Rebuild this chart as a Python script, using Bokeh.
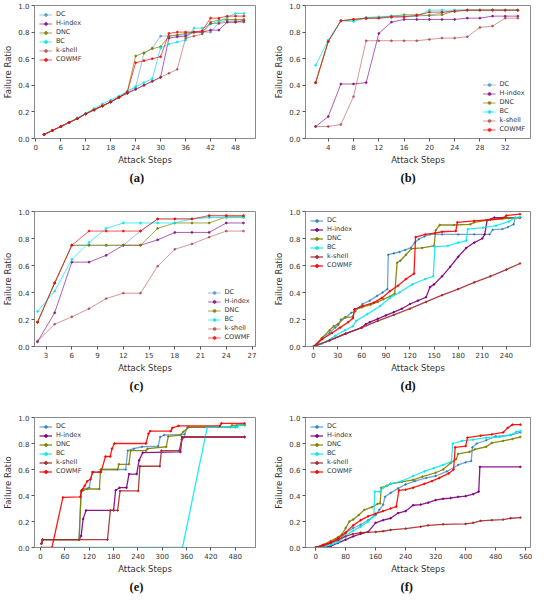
from bokeh.plotting import figure
from bokeh.layouts import column, row
from bokeh.models import Range1d, FixedTicker, NumeralTickFormatter, Legend, LegendItem
from bokeh.embed import file_html
from bokeh.resources import INLINE

series_names = ["DC", "H-index", "DNC", "BC", "k-shell", "COWMF"]
y_ticks = [0.0, 0.2, 0.4, 0.6, 0.8, 1.0]

# ---------------- panel (a) ----------------
a_x = [2, 4, 6, 8, 10, 12, 14, 16, 18, 20, 22, 24, 26, 28, 30, 32, 34, 36, 38, 40, 42, 44, 46, 48, 50]
a_dc = [0.03, 0.06, 0.09, 0.12, 0.15, 0.185, 0.215, 0.245, 0.275, 0.31, 0.345, 0.385, 0.64, 0.68, 0.77, 0.77, 0.775, 0.78, 0.80, 0.80, 0.80, 0.87, 0.89, 0.89, 0.89]
a_h = [0.03, 0.06, 0.09, 0.12, 0.15, 0.185, 0.215, 0.245, 0.275, 0.31, 0.34, 0.37, 0.40, 0.43, 0.46, 0.755, 0.765, 0.77, 0.80, 0.80, 0.815, 0.815, 0.875, 0.875, 0.885]
a_dnc = [0.03, 0.06, 0.09, 0.12, 0.15, 0.185, 0.215, 0.245, 0.275, 0.31, 0.35, 0.62, 0.645, 0.675, 0.69, 0.77, 0.78, 0.79, 0.80, 0.80, 0.875, 0.89, 0.895, 0.895, 0.895]
a_bc = [0.03, 0.06, 0.09, 0.12, 0.155, 0.19, 0.225, 0.26, 0.29, 0.32, 0.355, 0.39, 0.42, 0.45, 0.68, 0.71, 0.725, 0.74, 0.83, 0.83, 0.86, 0.88, 0.91, 0.94, 0.94]
a_ks = [0.03, 0.06, 0.09, 0.12, 0.15, 0.185, 0.215, 0.245, 0.275, 0.31, 0.34, 0.37, 0.40, 0.43, 0.46, 0.49, 0.52, 0.755, 0.77, 0.785, 0.865, 0.865, 0.875, 0.875, 0.875]
a_cowmf = [0.03, 0.06, 0.09, 0.12, 0.15, 0.185, 0.215, 0.245, 0.275, 0.31, 0.35, 0.57, 0.585, 0.60, 0.615, 0.79, 0.80, 0.80, 0.80, 0.81, 0.905, 0.905, 0.92, 0.92, 0.92]
a_ticks = [0, 6, 12, 18, 24, 30, 36, 42, 48]

# ---------------- panel (b) ----------------
b_x = [2, 4, 6, 8, 10, 12, 14, 16, 18, 20, 22, 24, 26, 28, 30, 32, 34]
b_dc = [0.42, 0.73, 0.885, 0.895, 0.90, 0.905, 0.91, 0.915, 0.92, 0.925, 0.945, 0.965, 0.965, 0.965, 0.965, 0.965, 0.965]
b_h = [0.09, 0.165, 0.41, 0.41, 0.42, 0.79, 0.875, 0.895, 0.895, 0.895, 0.895, 0.895, 0.905, 0.905, 0.92, 0.92, 0.92]
b_dnc = [0.42, 0.73, 0.885, 0.895, 0.905, 0.91, 0.92, 0.93, 0.93, 0.925, 0.93, 0.96, 0.965, 0.965, 0.965, 0.965, 0.965]
b_bc = [0.55, 0.74, 0.885, 0.88, 0.91, 0.915, 0.92, 0.92, 0.92, 0.965, 0.965, 0.965, 0.965, 0.965, 0.965, 0.965, 0.965]
b_ks = [0.09, 0.09, 0.105, 0.315, 0.735, 0.735, 0.735, 0.735, 0.735, 0.745, 0.755, 0.755, 0.765, 0.835, 0.845, 0.905, 0.905]
b_cowmf = [0.42, 0.73, 0.885, 0.895, 0.905, 0.905, 0.915, 0.915, 0.925, 0.95, 0.95, 0.955, 0.965, 0.965, 0.965, 0.965, 0.965]
b_ticks = [4, 8, 12, 16, 20, 24, 28, 32]

# ---------------- panel (c) ----------------
c_x = [2, 4, 6, 8, 10, 12, 14, 16, 18, 20, 22, 24, 26]
c_dc = [0.18, 0.47, 0.75, 0.75, 0.75, 0.75, 0.855, 0.945, 0.945, 0.945, 0.96, 0.96, 0.96]
c_h = [0.035, 0.25, 0.625, 0.625, 0.675, 0.75, 0.75, 0.79, 0.845, 0.845, 0.845, 0.915, 0.915]
c_dnc = [0.18, 0.47, 0.75, 0.75, 0.75, 0.75, 0.75, 0.875, 0.915, 0.915, 0.915, 0.96, 0.96]
c_bc = [0.26, 0.41, 0.645, 0.77, 0.875, 0.915, 0.915, 0.915, 0.915, 0.945, 0.955, 0.955, 0.955]
c_ks = [0.04, 0.165, 0.22, 0.28, 0.355, 0.395, 0.395, 0.595, 0.72, 0.76, 0.81, 0.855, 0.855]
c_cowmf = [0.18, 0.47, 0.75, 0.855, 0.855, 0.855, 0.855, 0.945, 0.945, 0.945, 0.97, 0.97, 0.97]
c_ticks = [3, 6, 9, 12, 15, 18, 21, 24, 27]

# ---------------- panel (d) ----------------
d_dc_x = [0, 5, 11, 20, 27, 31, 34, 40, 47, 52, 57, 61, 70, 79, 86, 92, 93, 100, 107, 114, 121, 126, 131, 138, 145, 160, 180, 200, 219, 223, 235, 242, 249, 251, 257]
d_dc_y = [0, 0.02, 0.065, 0.10, 0.14, 0.16, 0.20, 0.215, 0.25, 0.26, 0.29, 0.315, 0.34, 0.375, 0.40, 0.425, 0.68, 0.69, 0.70, 0.715, 0.73, 0.77, 0.795, 0.815, 0.83, 0.83, 0.83, 0.83, 0.83, 0.865, 0.87, 0.885, 0.905, 0.955, 0.955]
d_h_x = [0, 20, 40, 60, 65, 70, 80, 90, 100, 110, 120, 130, 140, 145, 150, 160, 170, 180, 190, 200, 210, 213, 216, 225, 257]
d_h_y = [0, 0.045, 0.095, 0.14, 0.165, 0.18, 0.205, 0.23, 0.255, 0.28, 0.315, 0.34, 0.365, 0.44, 0.46, 0.52, 0.59, 0.665, 0.73, 0.77, 0.80, 0.83, 0.935, 0.955, 0.955]
d_dnc_x = [0, 10, 20, 25, 30, 39, 49, 51, 60, 71, 80, 87, 95, 101, 104, 108, 115, 122, 135, 150, 152, 157, 175, 195, 200, 215, 243, 257]
d_dnc_y = [0, 0.06, 0.12, 0.15, 0.165, 0.215, 0.22, 0.275, 0.29, 0.31, 0.33, 0.35, 0.37, 0.39, 0.62, 0.635, 0.68, 0.725, 0.73, 0.745, 0.86, 0.9, 0.9, 0.905, 0.92, 0.935, 0.95, 0.955]
d_bc_x = [0, 10, 17, 27, 39, 49, 53, 67, 83, 95, 107, 123, 139, 149, 151, 167, 180, 190, 192, 211, 227, 243, 251, 257]
d_bc_y = [0, 0.02, 0.04, 0.08, 0.12, 0.15, 0.19, 0.24, 0.30, 0.36, 0.40, 0.46, 0.50, 0.52, 0.74, 0.745, 0.77, 0.785, 0.87, 0.88, 0.895, 0.925, 0.955, 0.96]
d_ks_x = [0, 20, 40, 60, 80, 100, 120, 140, 160, 180, 200, 220, 240, 257]
d_ks_y = [0, 0.045, 0.095, 0.14, 0.19, 0.235, 0.28, 0.33, 0.38, 0.425, 0.475, 0.52, 0.57, 0.615]
d_cowmf_x = [0, 11, 23, 33, 43, 49, 51, 61, 75, 85, 95, 105, 115, 125, 127, 139, 151, 160, 177, 179, 200, 220, 235, 240, 257]
d_cowmf_y = [0, 0.055, 0.10, 0.14, 0.18, 0.21, 0.275, 0.30, 0.325, 0.36, 0.41, 0.45, 0.50, 0.54, 0.81, 0.83, 0.84, 0.85, 0.855, 0.92, 0.93, 0.94, 0.95, 0.97, 0.98]
d_ticks = [0, 30, 60, 90, 120, 150, 180, 210, 240]

# ---------------- panel (e) ----------------
e_dc_x = [2, 5, 95, 100, 105, 120, 127, 145, 150, 210, 215, 230, 250, 290, 295, 305, 355, 362, 480, 485, 503]
e_dc_y = [0.03, 0.06, 0.06, 0.43, 0.45, 0.46, 0.58, 0.58, 0.60, 0.60, 0.745, 0.76, 0.775, 0.78, 0.85, 0.865, 0.87, 0.925, 0.925, 0.94, 0.94]
e_h_x = [2, 5, 95, 100, 105, 112, 180, 185, 195, 212, 218, 237, 243, 252, 345, 349, 503]
e_h_y = [0.03, 0.06, 0.06, 0.09, 0.22, 0.285, 0.285, 0.44, 0.46, 0.46, 0.565, 0.565, 0.67, 0.73, 0.735, 0.85, 0.85]
e_dnc_x = [2, 5, 95, 100, 105, 115, 145, 148, 190, 193, 218, 222, 260, 264, 310, 315, 345, 352, 366, 468, 472, 503]
e_dnc_y = [0.03, 0.06, 0.06, 0.43, 0.44, 0.45, 0.45, 0.60, 0.60, 0.64, 0.64, 0.745, 0.745, 0.76, 0.775, 0.855, 0.865, 0.89, 0.925, 0.925, 0.94, 0.945]
e_bc_x = [30, 350, 411, 485, 488, 503]
e_bc_y = [0, 0, 0.925, 0.925, 0.94, 0.94]
e_ks_x = [2, 5, 165, 172, 190, 196, 241, 245, 294, 298, 342, 348, 356, 503]
e_ks_y = [0.03, 0.06, 0.06, 0.285, 0.285, 0.435, 0.435, 0.625, 0.625, 0.745, 0.745, 0.83, 0.85, 0.85]
e_cowmf_x = [2, 28, 55, 98, 101, 109, 115, 123, 129, 149, 160, 172, 176, 182, 260, 266, 270, 321, 325, 340, 442, 446, 503]
e_cowmf_y = [0, 0, 0.385, 0.39, 0.44, 0.475, 0.51, 0.525, 0.58, 0.58, 0.70, 0.70, 0.76, 0.80, 0.80, 0.875, 0.895, 0.895, 0.92, 0.935, 0.935, 0.955, 0.955]
e_ticks = [0, 60, 120, 180, 240, 300, 360, 420, 480]

# ---------------- panel (f) ----------------
f_dc_x = [0, 20, 40, 60, 80, 100, 120, 140, 160, 170, 180, 185, 200, 220, 240, 265, 295, 320, 350, 380, 400, 415, 418, 430, 455, 480, 520, 546]
f_dc_y = [0, 0.01, 0.03, 0.05, 0.11, 0.15, 0.175, 0.21, 0.25, 0.29, 0.33, 0.39, 0.42, 0.455, 0.485, 0.51, 0.535, 0.55, 0.585, 0.635, 0.655, 0.665, 0.77, 0.80, 0.825, 0.855, 0.865, 0.885]
f_h_x = [0, 40, 60, 80, 100, 120, 140, 160, 180, 200, 220, 240, 260, 280, 300, 320, 340, 360, 380, 400, 420, 435, 438, 546]
f_h_y = [0, 0.01, 0.035, 0.06, 0.085, 0.105, 0.12, 0.19, 0.21, 0.225, 0.265, 0.28, 0.325, 0.33, 0.345, 0.365, 0.375, 0.38, 0.39, 0.395, 0.41, 0.43, 0.62, 0.62]
f_dnc_x = [0, 20, 40, 60, 70, 80, 90, 100, 115, 130, 150, 165, 172, 175, 190, 200, 230, 260, 285, 320, 340, 360, 375, 380, 410, 425, 455, 470, 500, 525, 546]
f_dnc_y = [0, 0.02, 0.05, 0.08, 0.10, 0.15, 0.20, 0.215, 0.25, 0.29, 0.31, 0.335, 0.34, 0.46, 0.475, 0.49, 0.505, 0.52, 0.545, 0.575, 0.60, 0.65, 0.68, 0.72, 0.735, 0.755, 0.775, 0.805, 0.82, 0.835, 0.85]
f_bc_x = [0, 20, 40, 60, 80, 100, 120, 140, 155, 158, 172, 180, 200, 230, 260, 290, 315, 340, 362, 366, 390, 420, 455, 490, 520, 535, 546]
f_bc_y = [0, 0.005, 0.02, 0.04, 0.09, 0.13, 0.16, 0.20, 0.24, 0.43, 0.43, 0.46, 0.49, 0.51, 0.55, 0.585, 0.61, 0.635, 0.66, 0.80, 0.82, 0.83, 0.845, 0.85, 0.865, 0.89, 0.895]
f_ks_x = [0, 20, 40, 60, 80, 100, 120, 160, 180, 200, 240, 280, 300, 340, 400, 420, 440, 470, 500, 520, 546]
f_ks_y = [0, 0.015, 0.035, 0.06, 0.085, 0.105, 0.115, 0.12, 0.125, 0.135, 0.145, 0.16, 0.17, 0.178, 0.182, 0.19, 0.205, 0.21, 0.215, 0.225, 0.23]
f_cowmf_x = [0, 20, 40, 60, 80, 100, 120, 140, 160, 180, 200, 215, 222, 240, 260, 290, 310, 330, 355, 368, 372, 400, 405, 440, 470, 500, 512, 525, 546]
f_cowmf_y = [0, 0.02, 0.04, 0.07, 0.115, 0.17, 0.21, 0.24, 0.26, 0.28, 0.30, 0.315, 0.44, 0.445, 0.46, 0.49, 0.51, 0.535, 0.57, 0.60, 0.77, 0.78, 0.845, 0.86, 0.87, 0.885, 0.92, 0.945, 0.945]
f_ticks = [0, 80, 160, 240, 320, 400, 480, 560]

COLORS = ["#1f77b4", "#800080", "#808000", "#00e8f0", "#a52a2a", "#ff0000"]
ALPHA_LIGHT = [0.5, 0.7, 0.8, 0.8, 0.55, 0.75]
ALPHA_DENSE = [0.65, 0.9, 0.9, 0.85, 0.9, 0.9]

# layout geometry per row / column: (top, frame height, bottom) and (left, frame width, right)
ROWS = [(5, 133, 59), (14, 135, 51), (20, 135, 43)]
COLS = [(30, 225, 12), (38, 225, 4)]


def panel(series, xr, xticks, sub, loc, ri, ci, dense):
    top, fh, bot = ROWS[ri]
    left, fw, right = COLS[ci]
    p = figure(width=left + fw + right, height=top + fh + bot,
               x_range=Range1d(*xr), y_range=Range1d(0, 1),
               toolbar_location=None, output_backend="svg",
               min_border_left=left, min_border_right=right,
               min_border_top=top, min_border_bottom=bot,
               title=sub, title_location="below")
    p.grid.visible = False
    p.outline_line_color = "#8a8a8a"
    p.background_fill_color = "white"
    p.border_fill_color = "white"
    p.title.align = "left"
    p.title.offset = 95
    p.title.standoff = 3
    p.title.text_font = "Liberation Serif"
    p.title.text_font_size = "12.5px"
    p.title.text_font_style = "bold"
    p.title.text_color = "#111111"
    p.xaxis.ticker = FixedTicker(ticks=xticks)
    p.yaxis.ticker = FixedTicker(ticks=y_ticks)
    p.yaxis.formatter = NumeralTickFormatter(format="0.0")
    p.xaxis.axis_label = "Attack Steps"
    p.yaxis.axis_label = "Failure Ratio"
    for ax in (p.xaxis[0], p.yaxis[0]):
        ax.axis_line_color = "#8a8a8a"
        ax.major_tick_line_color = "#555555"
        ax.major_tick_out = 3
        ax.major_tick_in = 0
        ax.minor_tick_line_color = None
        ax.major_label_text_font = "DejaVu Sans"
        ax.major_label_text_font_size = "7px"
        ax.major_label_text_color = "#333333"
        ax.major_label_standoff = 2
        ax.axis_label_text_font = "DejaVu Sans"
        ax.axis_label_text_font_size = "8.5px"
        ax.axis_label_text_font_style = "normal"
        ax.axis_label_text_color = "#333333"
        ax.axis_label_standoff = 2
    items = []
    alphas = ALPHA_DENSE if dense else ALPHA_LIGHT
    lw = 1.3 if dense else 0.9
    ms = 1.6 if dense else 1.9
    for i, (name, (xs, ys)) in enumerate(zip(series_names, series)):
        r1 = p.line(xs, ys, line_color=COLORS[i], line_width=lw, line_alpha=alphas[i])
        r2 = p.scatter(xs, ys, marker="circle", size=ms, fill_color=COLORS[i],
                       line_color=COLORS[i], alpha=alphas[i])
        items.append(LegendItem(label=name, renderers=[r1, r2]))
    leg = Legend(items=items, location=loc, label_text_font="DejaVu Sans",
                 label_text_font_size="6.5px", label_text_color="#333333",
                 glyph_width=13, glyph_height=7, label_height=7, spacing=1,
                 padding=2, margin=3, label_standoff=4,
                 background_fill_alpha=0, border_line_alpha=0)
    p.add_layout(leg)
    return p


pa = panel([(a_x, a_dc), (a_x, a_h), (a_x, a_dnc), (a_x, a_bc), (a_x, a_ks), (a_x, a_cowmf)],
           (-0.3, 52.8), a_ticks, "(a)", "top_left", 0, 0, False)
pb = panel([(b_x, b_dc), (b_x, b_h), (b_x, b_dnc), (b_x, b_bc), (b_x, b_ks), (b_x, b_cowmf)],
           (0.4, 36.0), b_ticks, "(b)", "bottom_right", 0, 1, False)
pc = panel([(c_x, c_dc), (c_x, c_h), (c_x, c_dnc), (c_x, c_bc), (c_x, c_ks), (c_x, c_cowmf)],
           (1.65, 27.4), c_ticks, "(c)", "bottom_right", 1, 0, False)
pd_ = panel([(d_dc_x, d_dc_y), (d_h_x, d_h_y), (d_dnc_x, d_dnc_y), (d_bc_x, d_bc_y), (d_ks_x, d_ks_y), (d_cowmf_x, d_cowmf_y)],
            (-10, 270), d_ticks, "(d)", "top_left", 1, 1, True)
pe = panel([(e_dc_x, e_dc_y), (e_h_x, e_h_y), (e_dnc_x, e_dnc_y), (e_bc_x, e_bc_y), (e_ks_x, e_ks_y), (e_cowmf_x, e_cowmf_y)],
           (-15, 530), e_ticks, "(e)", "top_left", 2, 0, True)
pf = panel([(f_dc_x, f_dc_y), (f_h_x, f_h_y), (f_dnc_x, f_dnc_y), (f_bc_x, f_bc_y), (f_ks_x, f_ks_y), (f_cowmf_x, f_cowmf_y)],
           (-27, 573), f_ticks, "(f)", "top_left", 2, 1, True)

layout = column(row(pa, pb), row(pc, pd_), row(pe, pf))
open("out.html", "w").write(file_html(layout, INLINE))
